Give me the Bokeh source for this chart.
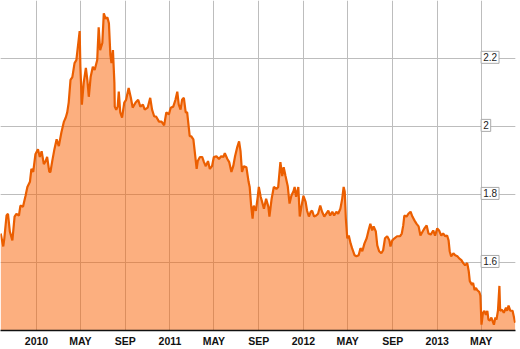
import pandas as pd
from bokeh.plotting import figure
from bokeh.models import Range1d, FixedTicker, Label, Grid, ColumnDataSource
from bokeh.embed import file_html
from bokeh.resources import INLINE

# ---------------- data ----------------
START_DATE = "2010-01-01"   # day 0 of the offsets below

day_offsets = [
    -98, -91, -88, -82, -78, -73, -66, -60, -55, -48, -44, -37, -30, -25, -18, -14, -9, -3,
    4, 9, 14, 20, 25, 29, 35, 38, 43, 49, 55, 61, 68, 75, 80, 84, 88, 93, 98, 104, 109, 113,
    118, 120, 124, 129, 135, 139, 143, 148, 154, 159, 166, 170, 174, 180, 184, 189, 194, 198,
    202, 205, 209, 213, 214, 218, 222, 225, 229, 234, 240, 245, 252, 258, 263, 271, 278, 284,
    291, 296, 304, 311, 316, 322, 327, 335, 342, 349, 355, 362, 367, 374, 380, 385, 389, 394,
    398, 403, 408, 412, 417, 419, 423, 429, 432, 438, 441, 447, 453, 458, 463, 469, 474, 480,
    485, 492, 499, 505, 511, 515, 522, 527, 533, 538, 543, 549, 554, 558, 562, 567, 574, 580,
    583, 587, 591, 594, 600, 605, 608, 613, 617, 622, 628, 634, 637, 643, 649, 656, 661, 667,
    672, 676, 681, 687, 692, 697, 703, 706, 710, 716, 720, 725, 730, 736, 740, 745, 750, 754,
    759, 765, 770, 776, 781, 787, 792, 798, 803, 809, 814, 820, 825, 831, 836, 840, 843, 846,
    850, 854, 859, 863, 870, 875, 881, 886, 891, 897, 903, 908, 913, 918, 922, 928, 932, 937,
    943, 948, 953, 959, 965, 968, 973, 979, 986, 994, 999, 1003, 1006, 1012, 1017, 1023, 1028,
    1034, 1039, 1045, 1050, 1056, 1061, 1067, 1072, 1078, 1085, 1090, 1096, 1101, 1107, 1112,
    1118, 1123, 1127, 1130, 1134, 1140, 1145, 1151, 1156, 1162, 1167, 1172, 1178, 1182, 1185,
    1191, 1194, 1198, 1202, 1205, 1211, 1214, 1217, 1221, 1225, 1229, 1233, 1236, 1240, 1244,
    1247, 1251, 1255, 1258, 1262, 1266, 1268, 1273, 1278, 1284, 1287, 1291, 1296, 1302, 1305,
    1309,
]

values = [
    1.685, 1.647, 1.671, 1.738, 1.743, 1.691, 1.665, 1.735, 1.743, 1.738, 1.767, 1.764, 1.796, 1.822, 1.837, 1.875, 1.866, 1.918,
    1.933, 1.910, 1.927, 1.889, 1.898, 1.910, 1.866, 1.866, 1.898, 1.933, 1.962, 1.942, 1.982, 2.014, 2.026, 2.041, 2.070, 2.137, 2.145, 2.186, 2.195, 2.233,
    2.280, 2.175, 2.064, 2.128, 2.172, 2.137, 2.087, 2.145, 2.175, 2.166, 2.195, 2.291, 2.224, 2.245, 2.332, 2.317, 2.320, 2.303,
    2.210, 2.186, 2.224, 2.128, 2.058, 2.049, 2.058, 2.102, 2.041, 2.026, 2.070, 2.078, 2.113, 2.084, 2.055, 2.070, 2.078, 2.058,
    2.064, 2.049, 2.055, 2.084, 2.049, 2.029, 2.029, 2.014, 2.014, 2.003, 2.041, 2.035, 2.055, 2.058, 2.078, 2.102, 2.064, 2.049,
    2.078, 2.084, 2.041, 2.041, 1.991, 1.971, 1.971, 1.962, 1.933, 1.875, 1.898, 1.910, 1.910, 1.895, 1.883, 1.898, 1.875, 1.883,
    1.910, 1.912, 1.904, 1.912, 1.910, 1.921, 1.904, 1.895, 1.866, 1.883, 1.912, 1.939, 1.956, 1.927, 1.866, 1.883, 1.880, 1.837,
    1.822, 1.767, 1.729, 1.767, 1.752, 1.793, 1.822, 1.793, 1.778, 1.758, 1.787, 1.764, 1.735, 1.787, 1.822, 1.816, 1.822, 1.895,
    1.854, 1.880, 1.854, 1.825, 1.773, 1.796, 1.810, 1.822, 1.793, 1.822, 1.735, 1.767, 1.796, 1.778, 1.752, 1.735, 1.749, 1.752,
    1.735, 1.738, 1.743, 1.767, 1.749, 1.735, 1.743, 1.752, 1.738, 1.749, 1.738, 1.749, 1.743, 1.758, 1.787, 1.822, 1.808, 1.729,
    1.671, 1.679, 1.656, 1.642, 1.621, 1.618, 1.621, 1.642, 1.633, 1.656, 1.671, 1.694, 1.714, 1.694, 1.706, 1.691, 1.650, 1.633,
    1.627, 1.636, 1.671, 1.677, 1.665, 1.647, 1.665, 1.671, 1.677, 1.677, 1.685, 1.709, 1.738, 1.735, 1.743, 1.749, 1.735,
    1.723, 1.714, 1.706, 1.679, 1.691, 1.700, 1.709, 1.685, 1.682, 1.694, 1.679, 1.700, 1.694, 1.679, 1.685,
    1.677, 1.679, 1.665, 1.633, 1.618, 1.627, 1.621, 1.618, 1.612, 1.607, 1.598, 1.592, 1.598, 1.575, 1.545,
    1.534, 1.540, 1.519, 1.525, 1.519, 1.513, 1.502, 1.417, 1.452, 1.458, 1.446, 1.458, 1.432, 1.429, 1.438,
    1.429, 1.417, 1.438, 1.432, 1.458, 1.531, 1.458, 1.461, 1.452, 1.467, 1.458, 1.473, 1.458, 1.458, 1.443,
    1.423,
]
assert len(day_offsets) == len(values)

x_tick_dates = ["2009-09-01", "2010-01-01", "2010-05-01", "2010-09-01", "2011-01-01", "2011-05-01",
                "2011-09-01", "2012-01-01", "2012-05-01", "2012-09-01", "2013-01-01", "2013-05-01"]
x_tick_labels = ["SEP", "2010", "MAY", "SEP", "2011", "MAY", "SEP", "2012", "MAY", "SEP", "2013", "MAY"]

y_ticks = [1.6, 1.8, 2.0, 2.2]
y_tick_labels = ["1.6", "1.8", "2", "2.2"]

X_START, X_END = -98.5, 1310
Y_START, Y_END = 1.4, 2.37

# ---------------- build ----------------
start = pd.Timestamp(START_DATE)
x_tick_pos = [int((pd.Timestamp(d) - start).days) for d in x_tick_dates]

src = ColumnDataSource(data=dict(x=day_offsets, y=values))

p = figure(width=520, height=349, output_backend="svg", toolbar_location=None,
           x_range=Range1d(X_START, X_END), y_range=Range1d(Y_START, Y_END),
           y_axis_location=None, min_border_left=0, min_border_right=5,
           min_border_top=0, min_border_bottom=16, outline_line_color=None,
           background_fill_color="white", border_fill_color="white")

GRID = "#bdbdbd"
p.xaxis.ticker = FixedTicker(ticks=x_tick_pos)
p.xaxis.major_label_overrides = {t: l for t, l in zip(x_tick_pos, x_tick_labels)}
p.xaxis.major_tick_line_color = None
p.xaxis.minor_tick_line_color = None
p.xaxis.major_tick_in = 0
p.xaxis.major_tick_out = 0
p.xaxis.major_label_standoff = 4
p.xaxis.axis_line_color = "#111111"
p.xaxis.axis_line_width = 1.5
p.xaxis.major_label_text_font = "Liberation Sans"
p.xaxis.major_label_text_font_size = "10.5px"
p.xaxis.major_label_text_font_style = "bold"
p.xaxis.major_label_text_color = "#111111"
p.xgrid.ticker = FixedTicker(ticks=x_tick_pos)
p.xgrid.grid_line_color = GRID

p.add_layout(Grid(dimension=1, ticker=FixedTicker(ticks=y_ticks), grid_line_color=GRID))

p.varea(x="x", y1=Y_START, y2="y", source=src, fill_color="#FA6000", fill_alpha=0.5)
p.line(x="x", y="y", source=src, line_color="#EB5E00", line_width=2.2)

label_x = x_tick_pos[-1]
for v, t in zip(y_ticks, y_tick_labels):
    p.add_layout(Label(x=label_x, y=v, text=t, text_align="left", text_baseline="middle",
                       x_offset=0, y_offset=1,
                       text_font="Liberation Sans", text_font_size="10px", text_color="#222222",
                       background_fill_color="white", border_line_color="#aaaaaa",
                       border_line_width=1, padding=2))

open("out.html", "w").write(file_html(p, INLINE))
